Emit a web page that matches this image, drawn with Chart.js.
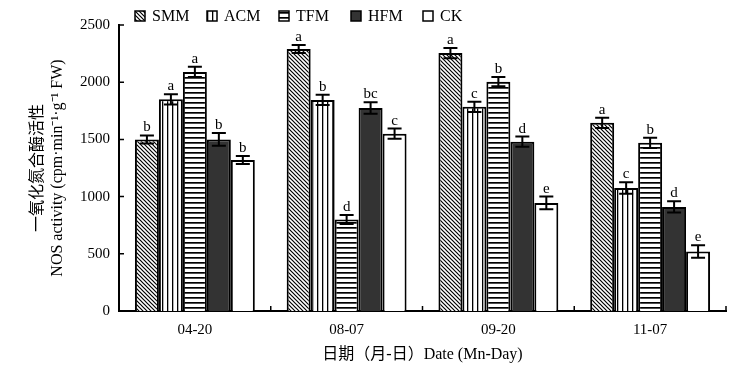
<!DOCTYPE html>
<html><head><meta charset="utf-8">
<script src="https://cdn.jsdelivr.net/npm/chart.js@4/dist/chart.umd.min.js"></script>
<style>html,body{margin:0;padding:0;background:#fff;overflow:hidden}</style>
</head><body>
<canvas id="c" width="739" height="372"></canvas>
<script>
const categories = ['04-20', '08-07', '09-20', '11-07'];
const seriesNames = ['SMM', 'ACM', 'TFM', 'HFM', 'CK'];
const smm = [1500, 2290, 2255, 1645];
const acm = [1850, 1845, 1785, 1075];
const tfm = [2090, 800, 2005, 1470];
const hfm = [1500, 1775, 1480, 910];
const ck  = [1320, 1550, 945, 520];
const smmErr = [35, 35, 45, 45];
const acmErr = [45, 45, 45, 50];
const tfmErr = [45, 40, 40, 45];
const hfmErr = [55, 50, 45, 50];
const ckErr  = [35, 45, 55, 55];
const smmSig = ['b', 'a', 'a', 'a'];
const acmSig = ['a', 'b', 'c', 'c'];
const tfmSig = ['a', 'd', 'b', 'b'];
const hfmSig = ['b', 'bc', 'd', 'd'];
const ckSig  = ['b', 'c', 'e', 'e'];
const yTickValues = [0, 500, 1000, 1500, 2000, 2500];
const yTitle = ['一氧化氮合酶活性', 'NOS activity (cpm·min⁻¹·g⁻¹ FW)'];
const xTitle = '日期（月-日）Date (Mn-Day)';

const FONT = "'Liberation Serif', 'Times New Roman', 'Noto Sans CJK SC', serif";

function makePattern(kind) {
  const c = document.createElement('canvas');
  const ctx = c.getContext('2d');
  if (kind === 'diag') {
    c.width = 4; c.height = 4;
    ctx.fillStyle = '#fff'; ctx.fillRect(0, 0, 4, 4);
    ctx.strokeStyle = '#000'; ctx.lineWidth = 1.2;
    ctx.beginPath();
    ctx.moveTo(-1, -1); ctx.lineTo(5, 5);
    ctx.moveTo(-1, 3); ctx.lineTo(1, 5);
    ctx.moveTo(3, -1); ctx.lineTo(5, 1);
    ctx.stroke();
  } else if (kind === 'vert') {
    c.width = 5; c.height = 4;
    ctx.fillStyle = '#fff'; ctx.fillRect(0, 0, 5, 4);
    ctx.fillStyle = '#000'; ctx.fillRect(2, 0, 1.3, 4);
  } else if (kind === 'horiz') {
    c.width = 4; c.height = 5;
    ctx.fillStyle = '#fff'; ctx.fillRect(0, 0, 4, 5);
    ctx.fillStyle = '#000'; ctx.fillRect(0, 2, 4, 1.7);
  }
  return ctx.createPattern(c, 'repeat');
}

const fills = [makePattern('diag'), makePattern('vert'), makePattern('horiz'), '#333333', '#ffffff'];
const values = [smm, acm, tfm, hfm, ck];
const errs = [smmErr, acmErr, tfmErr, hfmErr, ckErr];
const sigs = [smmSig, acmSig, tfmSig, hfmSig, ckSig];

const datasets = seriesNames.map((name, i) => ({
  label: name,
  data: values[i],
  backgroundColor: fills[i],
  borderColor: '#000',
  borderWidth: 2,
  borderSkipped: 'bottom',
  categoryPercentage: 0.79,
  barPercentage: 1.0
}));

const decorPlugin = {
  id: 'decor',
  afterDatasetsDraw(chart) {
    const ctx = chart.ctx;
    const ys = chart.scales.y;
    const area = chart.chartArea;
    ctx.save();
    ctx.strokeStyle = '#000';
    ctx.fillStyle = '#000';
    ctx.lineWidth = 2;
    ctx.font = '15px ' + FONT;
    ctx.textAlign = 'center';
    ctx.textBaseline = 'alphabetic';
    chart.data.datasets.forEach((ds, d) => {
      const meta = chart.getDatasetMeta(d);
      meta.data.forEach((bar, i) => {
        const v = values[d][i], e = errs[d][i];
        const x = bar.x;
        const yTop = ys.getPixelForValue(v + e);
        const yBot = ys.getPixelForValue(v - e);
        const cap = 7;
        ctx.beginPath();
        ctx.moveTo(x, yTop); ctx.lineTo(x, yBot);
        ctx.moveTo(x - cap, yTop); ctx.lineTo(x + cap, yTop);
        ctx.moveTo(x - cap, yBot); ctx.lineTo(x + cap, yBot);
        ctx.stroke();
        ctx.fillText(sigs[d][i], x, yTop - 4);
      });
    });
    ctx.lineWidth = 1.5;
    ctx.beginPath();
    yTickValues.forEach(t => {
      const y = ys.getPixelForValue(t);
      ctx.moveTo(area.left, y); ctx.lineTo(area.left + 5, y);
    });
    const n = categories.length;
    const w = (area.right - area.left) / n;
    for (let k = 1; k <= n; k++) {
      const x = area.left + k * w;
      ctx.moveTo(x, area.bottom); ctx.lineTo(x, area.bottom - 5);
    }
    ctx.stroke();
    const legX0 = area.left + 16;
    const step = 72;
    seriesNames.forEach((name, i) => {
      const bx = legX0 + i * step;
      const by = 11;
      ctx.fillStyle = fills[i];
      ctx.fillRect(bx, by, 10, 10);
      ctx.strokeStyle = '#000';
      ctx.lineWidth = 1.5;
      ctx.strokeRect(bx, by, 10, 10);
      ctx.fillStyle = '#000';
      ctx.textAlign = 'left';
      ctx.textBaseline = 'middle';
      ctx.font = '16px ' + FONT;
      ctx.fillText(name, bx + 17, by + 5.5);
    });
    ctx.restore();
  }
};

new Chart(document.getElementById('c'), {
  type: 'bar',
  data: { labels: categories, datasets },
  plugins: [decorPlugin],
  options: {
    responsive: false,
    animation: false,
    layout: { padding: { left: 0, right: 13, top: 25, bottom: 0 } },
    plugins: { legend: { display: false }, tooltip: { enabled: false } },
    scales: {
      x: {
        grid: { display: false, drawTicks: false },
        border: { display: true, color: '#000', width: 2 },
        ticks: { color: '#000', padding: 10, font: { family: FONT, size: 15 } },
        title: { display: true, text: xTitle, color: '#000', padding: { top: 0, bottom: 8 }, font: { family: FONT, size: 16 } },
        afterFit(scale) { scale.height = 61; }
      },
      y: {
        min: 0, max: 2500,
        afterBuildTicks(scale) { scale.ticks = yTickValues.map(v => ({ value: v })); },
        grid: { display: false, drawTicks: false },
        border: { display: true, color: '#000', width: 2 },
        ticks: { color: '#000', padding: 9, font: { family: FONT, size: 15 }, callback: v => String(v) },
        title: { display: true, text: yTitle, color: '#000', padding: { top: 28, bottom: 0 }, font: { family: FONT, size: 16, lineHeight: 1.25 } },
        afterFit(scale) { scale.width = 119; }
      }
    }
  }
});
</script>
</body></html>
